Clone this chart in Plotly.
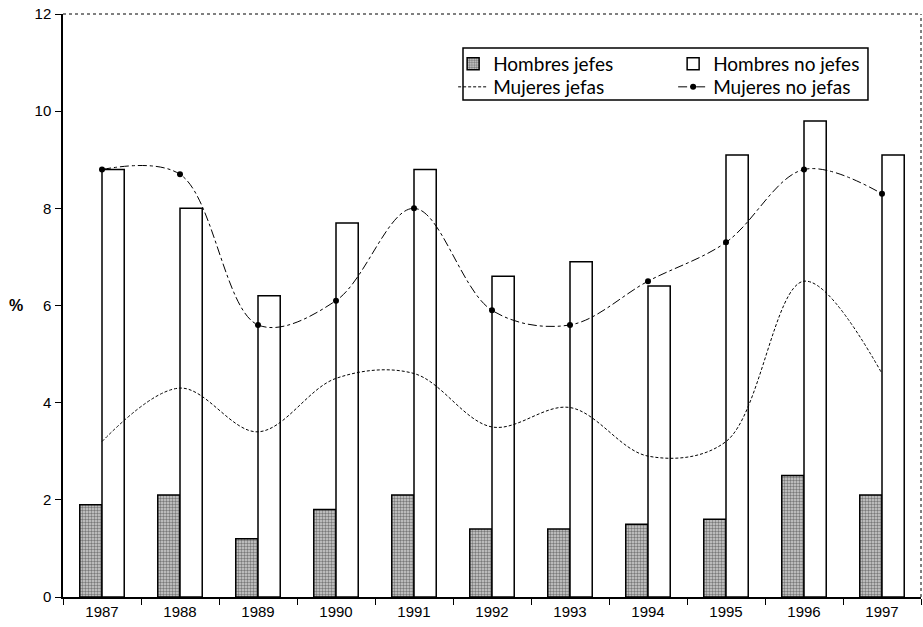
import plotly.graph_objects as go

years = ["1987", "1988", "1989", "1990", "1991", "1992", "1993", "1994", "1995", "1996", "1997"]
hombres_jefes = [1.9, 2.1, 1.2, 1.8, 2.1, 1.4, 1.4, 1.5, 1.6, 2.5, 2.1]
hombres_no_jefes = [8.8, 8.0, 6.2, 7.7, 8.8, 6.6, 6.9, 6.4, 9.1, 9.8, 9.1]
mujeres_jefas = [3.2, 4.3, 3.4, 4.5, 4.6, 3.5, 3.9, 2.9, 3.2, 6.5, 4.6]
mujeres_no_jefas = [8.8, 8.7, 5.6, 6.1, 8.0, 5.9, 5.6, 6.5, 7.3, 8.8, 8.3]
y_ticks = [0, 2, 4, 6, 8, 10, 12]

fig = go.Figure()
fig.add_trace(go.Bar(
    x=years, y=hombres_jefes, name="Hombres jefes", legend="legend",
    marker=dict(color="#c8c8c8", line=dict(color="black", width=1.5),
                pattern=dict(shape=".", fgcolor="#222222", bgcolor="#d0d0d0", size=3, solidity=0.5)),
))
fig.add_trace(go.Bar(
    x=years, y=hombres_no_jefes, name="Hombres no jefes", legend="legend",
    marker=dict(color="white", line=dict(color="black", width=1.5)),
))
fig.add_trace(go.Scatter(
    x=years, y=mujeres_jefas, name="Mujeres jefas", mode="lines", legend="legend2",
    line=dict(color="black", width=1, dash="3px,2px", shape="spline", smoothing=1),
))
fig.add_trace(go.Scatter(
    x=years, y=mujeres_no_jefas, name="Mujeres no jefas", mode="lines+markers", legend="legend2",
    line=dict(color="black", width=1, dash="dashdot", shape="spline", smoothing=1),
    marker=dict(color="black", size=6),
))

legend_common = dict(
    orientation="h", xanchor="left", yanchor="middle",
    bgcolor="rgba(0,0,0,0)", borderwidth=0,
    font=dict(family="Lato, Noto Sans, sans-serif", size=19, color="black"),
    entrywidth=175, itemwidth=30, traceorder="normal",
)

fig.update_layout(
    width=923, height=627,
    margin=dict(l=63, r=2, t=14, b=30),
    plot_bgcolor="white", paper_bgcolor="white",
    barmode="group", bargap=0.43, bargroupgap=0,
    font=dict(family="Liberation Sans, Arial, sans-serif", size=15, color="black"),
    showlegend=True,
    legend=dict(x=0.4547, y=0.9142, **legend_common),
    legend2=dict(x=0.4547, y=0.8748, **legend_common),
    xaxis=dict(
        type="category", range=[-0.5, 10.5], showline=True, linecolor="black", linewidth=1.5,
        ticks="outside", ticklen=6, tickcolor="black", tickson="boundaries",
        showgrid=False, zeroline=False,
        tickfont=dict(size=15),
    ),
    yaxis=dict(
        range=[0, 12], tickvals=y_ticks, showline=True, linecolor="black", linewidth=1.5,
        ticks="outside", ticklen=6, tickcolor="black", ticklabelstandoff=1,
        ticklabeloverflow="allow",
        showgrid=False, zeroline=False, tickfont=dict(size=15),
    ),
    shapes=[
        dict(type="line", xref="paper", yref="paper", x0=0, x1=1, y0=1, y1=1,
             line=dict(color="black", width=1, dash="dot")),
        dict(type="line", xref="paper", yref="paper", x0=1, x1=1, y0=0, y1=1,
             line=dict(color="black", width=1, dash="dot")),
        dict(type="rect", xref="paper", yref="paper", x0=0.4662, x1=0.9382, y0=0.8525, y1=0.9417,
             line=dict(color="black", width=1.5), fillcolor="white", layer="above"),
    ],
    annotations=[
        dict(text="<b>%</b>", xref="paper", yref="y", x=-0.044, y=6, showarrow=False,
             xanchor="right", font=dict(size=16, family="Liberation Sans, Arial, sans-serif")),
    ],
)

fig.write_html(
    "out.html",
    config={"displayModeBar": False},
    post_script="document.body.style.margin='0';document.body.style.overflow='hidden';",
)
